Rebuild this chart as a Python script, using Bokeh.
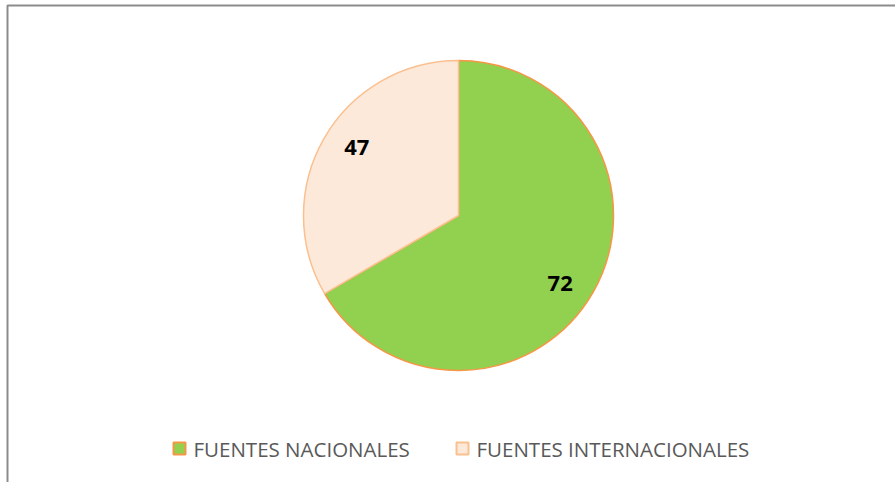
import math
from bokeh.plotting import figure
from bokeh.models import Range1d, BoxAnnotation, ColumnDataSource
from bokeh.core.properties import value
from bokeh.embed import file_html
from bokeh.resources import INLINE

# ---- data ----
categories = ["FUENTES NACIONALES", "FUENTES INTERNACIONALES"]
label_values = [72, 47]          # numbers printed on the slices
slice_share = [66.6, 33.4]       # share of the circle each slice covers (%)
fill_colors = ["#92D050", "#FDE9D9"]
edge_colors = ["#F79646", "#FAC090"]

W, H = 895, 482
p = figure(width=W, height=H, output_backend="svg", toolbar_location=None,
           x_range=Range1d(0, W), y_range=Range1d(0, H), min_border=0)
p.axis.visible = False
p.grid.visible = False
p.outline_line_color = None
p.background_fill_color = "white"

# chart frame (top and left edges visible)
p.add_layout(BoxAnnotation(left=7, right=W + 50, top=H - 5, bottom=-50,
                           fill_alpha=0, line_color="#8C8C8C", line_alpha=1.0,
                           line_width=2))

cx, cy, r = 458, H - 215, 155
total = sum(slice_share)
starts, ends, lx, ly, labels = [], [], [], [], []
cum = 0.0
for v, lab in zip(slice_share, label_values):
    a_top = math.pi / 2 - 2 * math.pi * cum / total
    a_bot = math.pi / 2 - 2 * math.pi * (cum + v) / total
    starts.append(a_bot)
    ends.append(a_top)
    mid = (a_top + a_bot) / 2 - math.radians(4)
    lx.append(cx + 0.79 * r * math.cos(mid))
    ly.append(cy + 0.79 * r * math.sin(mid))
    labels.append(str(lab))
    cum += v

src = ColumnDataSource(dict(start=starts, end=ends, fill=fill_colors, edge=edge_colors))
p.wedge(x=cx, y=cy, radius=r, start_angle="start", end_angle="end", source=src,
        fill_color="fill", line_color="edge", line_width=1.5, direction="anticlock")

p.text(x=lx, y=ly, text=labels, text_font=value("Open Sans"), text_font_style="bold",
       text_font_size="22px", text_color="black", text_align="center",
       text_baseline="middle")

# legend
leg_y = H - 448
sq_x = [179, 462]
p.rect(x=sq_x, y=[leg_y] * 2, width=12, height=12, fill_color=fill_colors,
       line_color=edge_colors, line_width=2)
p.text(x=[193, 476], y=[leg_y] * 2, text=categories, text_font=value("Open Sans"),
       text_font_size="20.5px", text_color="#595959", text_align="left",
       text_baseline="middle")

open("out.html", "w").write(file_html(p, INLINE))
